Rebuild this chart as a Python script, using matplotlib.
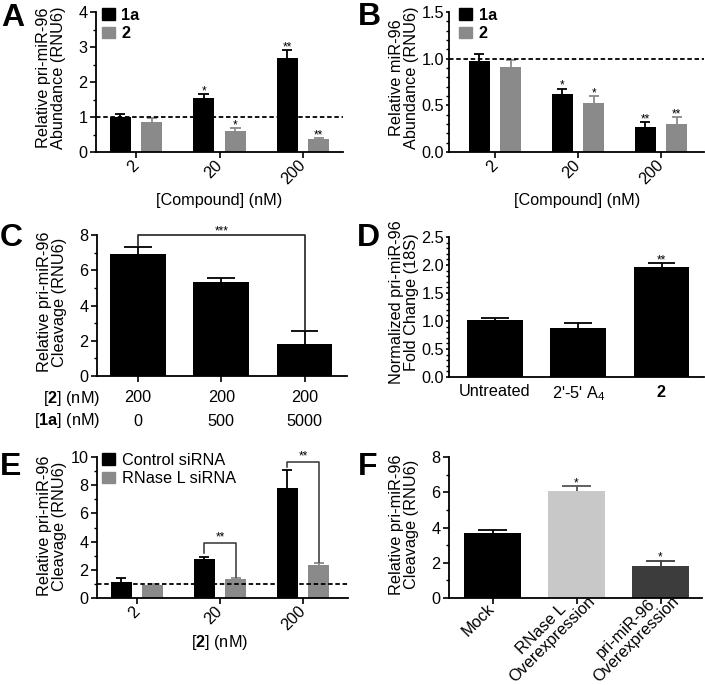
import matplotlib
matplotlib.use('Agg')
import matplotlib.pyplot as plt
import matplotlib.transforms as mtransforms
from matplotlib.patches import Patch
from matplotlib.ticker import AutoMinorLocator

plt.rcParams['font.family'] = 'Liberation Sans'
plt.rcParams['mathtext.fontset'] = 'custom'
plt.rcParams['mathtext.rm'] = 'Liberation Sans'
plt.rcParams['mathtext.bf'] = 'Liberation Sans:bold'
plt.rcParams['font.size'] = 11.7

W, H = 705, 685
BLACK = '#000000'
GRAY = '#8a8a8a'

# ---- data ----
doses = ['2', '20', '200']

a_1a = [1.00, 1.54, 2.70]
a_1a_err = [0.10, 0.11, 0.20]
a_2 = [0.86, 0.60, 0.37]
a_2_err = [0.10, 0.08, 0.03]
a_sig_1a = ['', '*', '**']
a_sig_2 = ['', '*', '**']

b_1a = [0.98, 0.62, 0.27]
b_1a_err = [0.07, 0.06, 0.05]
b_2 = [0.91, 0.52, 0.30]
b_2_err = [0.08, 0.08, 0.07]
b_sig_1a = ['', '*', '**']
b_sig_2 = ['', '*', '**']

c_row1 = ['200', '200', '200']
c_row2 = ['0', '500', '5000']
c_vals = [6.92, 5.35, 1.82]
c_err = [0.40, 0.23, 0.73]

d_labels = ['Untreated', "2'-5' A$_4$", r'$\mathbf{2}$']
d_vals = [1.01, 0.87, 1.96]
d_err = [0.05, 0.09, 0.07]
d_sig = ['', '', '**']

e_ctrl = [1.13, 2.77, 7.80]
e_ctrl_err = [0.28, 0.14, 1.25]
e_rnase = [0.95, 1.35, 2.34]
e_rnase_err = [0.07, 0.08, 0.14]

f_labels = ['Mock', 'RNase L\nOverexpression', 'pri-miR-96\nOverexpression']
f_vals = [3.69, 6.07, 1.82]
f_err = [0.18, 0.28, 0.30]
f_colors = ['#000000', '#c8c8c8', '#3c3c3c']
f_sig = ['', '*', '*']

fig = plt.figure(figsize=(W / 100, H / 100), dpi=100)


def make_ax(l, t, r, b, centers, ylim, step, nminor, ylab, ylab_y=0.52, tick_len=4, tick_pad=2):
    ax = fig.add_axes([l / W, 1 - b / H, (r - l) / W, (b - t) / H])
    sp = (centers[2] - centers[0]) / 2
    ax.set_xlim(-(centers[0] - l) / sp, (r - centers[0]) / sp)
    ax.set_ylim(*ylim)
    ax.set_yticks([ylim[0] + i * step for i in range(int(round((ylim[1] - ylim[0]) / step)) + 1)])
    ax.yaxis.set_minor_locator(AutoMinorLocator(nminor))
    for s in ['top', 'right']:
        ax.spines[s].set_visible(False)
    for s in ['left', 'bottom']:
        ax.spines[s].set_linewidth(1.3)
    ax.tick_params(which='major', length=4, width=1.2, pad=2)
    ax.tick_params(axis='y', which='major', length=tick_len, pad=tick_pad)
    ax.tick_params(which='minor', length=2, width=1)
    ax.tick_params(axis='x', which='minor', length=0)
    ax.tick_params(axis='x', pad=4)
    ax.set_ylabel(ylab, linespacing=1.05)
    ax.yaxis.label.set_verticalalignment('center')
    ax.yaxis.set_label_coords(-45 / (r - l), ylab_y)
    return ax


def bars(ax, x, vals, errs, colors, width, ecolors=None):
    if isinstance(colors, str):
        colors = [colors] * len(vals)
    if ecolors is None:
        ecolors = colors
    ax.bar(x, vals, width=width, color=colors, zorder=2)
    for xi, v, e, c in zip(x, vals, errs, ecolors):
        ax.vlines(xi, v, v + e, color=c, lw=1.3, zorder=3)
        ax.hlines(v + e, xi - width / 4, xi + width / 4, color=c, lw=1.3, zorder=3)


def stars(ax, x, vals, errs, sig):
    for xi, v, e, s in zip(x, vals, errs, sig):
        if s:
            ax.annotate(s, (xi, v + e), xytext=(0, 0), textcoords='offset points',
                        ha='center', va='baseline', fontsize=8.5)


def rot_labels(ax, labels):
    ax.set_xticklabels(labels, rotation=45, ha='right', va='center', rotation_mode='anchor')


def letter(x, y, s):
    fig.text(x / W, 1 - y / H, s, fontsize=23, fontweight='bold', va='baseline')


xg = [0, 1, 2]
xb = [i - 0.19 for i in xg]
xr = [i + 0.19 for i in xg]
bw = 0.25

# ---- A ----
ax = make_ax(96, 12, 343, 152, [136, 220, 303], (0, 4), 1, 2,
             'Relative pri-miR-96\nAbundance (RNU6)', 0.53)
bars(ax, xb, a_1a, a_1a_err, BLACK, bw)
bars(ax, xr, a_2, a_2_err, GRAY, bw)
stars(ax, xb, a_1a, a_1a_err, a_sig_1a)
stars(ax, xr, a_2, a_2_err, a_sig_2)
ax.axhline(1, color='black', ls=(0, (2.5, 1.5)), lw=1.3, zorder=4)
ax.set_xticks(xg)
rot_labels(ax, doses)
fig.text(219.5 / W, 1 - 200 / H, '[Compound] (nM)', ha='center', va='center')
ax.legend([Patch(color=BLACK), Patch(color=GRAY)], ['1a', '2'], loc='upper left',
          bbox_to_anchor=(6 / 247, 1.03), frameon=False, prop={'weight': 'bold'},
          handlelength=0.8, handleheight=0.7, handletextpad=0.4, borderpad=0,
          borderaxespad=0, labelspacing=0.2)
letter(1, 26, 'A')

# ---- B ----
ax = make_ax(449, 12, 704, 152, [495, 578, 661], (0, 1.5), 0.5, 5,
             'Relative miR-96\nAbundance (RNU6)', 0.53, tick_len=2.5, tick_pad=1)
bars(ax, xb, b_1a, b_1a_err, BLACK, bw)
bars(ax, xr, b_2, b_2_err, GRAY, bw)
stars(ax, xb, b_1a, b_1a_err, b_sig_1a)
stars(ax, xr, b_2, b_2_err, b_sig_2)
ax.axhline(1, color='black', ls=(0, (2.5, 1.5)), lw=1.3, zorder=4)
ax.set_xticks(xg)
rot_labels(ax, doses)
ax.set_yticklabels(['0.0', '0.5', '1.0', '1.5'])
fig.text(577 / W, 1 - 200 / H, '[Compound] (nM)', ha='center', va='center')
ax.legend([Patch(color=BLACK), Patch(color=GRAY)], ['1a', '2'], loc='upper left',
          bbox_to_anchor=(10 / 255, 1.03), frameon=False, prop={'weight': 'bold'},
          handlelength=0.8, handleheight=0.7, handletextpad=0.4, borderpad=0,
          borderaxespad=0, labelspacing=0.2)
letter(358, 25, 'B')

# ---- C ----
ax = make_ax(97, 235, 347, 376, [138, 221.5, 304.5], (0, 8), 2, 2,
             'Relative pri-miR-96\nCleavage (RNU6)', 0.525)
bars(ax, xg, c_vals, c_err, BLACK, 0.67)
ax.set_xticks(xg)
ax.set_xticklabels([])
tr = ax.get_xaxis_transform()
for xi, r1, r2 in zip(xg, c_row1, c_row2):
    ax.text(xi, -22 / 141, r1, transform=tr, ha='center', va='center')
    ax.text(xi, -45 / 141, r2, transform=tr, ha='center', va='center')
ax.text(3 / 250, -22 / 141, r'[$\mathbf{2}$] (nM)', transform=ax.transAxes, ha='right', va='center')
ax.text(3 / 250, -45 / 141, r'[$\mathbf{1a}$] (nM)', transform=ax.transAxes, ha='right', va='center')
top = 8.0
ax.plot([0, 0, 2, 2], [c_vals[0] + c_err[0] + 0.05, top, top, c_vals[2] + c_err[2] + 0.05],
        color='#222222', lw=1.2, clip_on=False, zorder=3)
ax.text(1, top + 0.05, '***', ha='center', va='baseline', fontsize=8.5)
letter(0, 246, 'C')

# ---- D ----
ax = make_ax(449, 237, 704, 377, [495, 578.5, 661.5], (0, 2.5), 0.5, 5,
             'Normalized pri-miR-96\nFold Change (18S)', 0.535, tick_len=2.5, tick_pad=1)
bars(ax, xg, d_vals, d_err, BLACK, 0.67)
stars(ax, xg, d_vals, d_err, d_sig)
ax.set_xticks(xg)
ax.set_xticklabels(d_labels)
ax.tick_params(axis='x', length=0, pad=5)
ax.set_yticklabels(['0.0', '0.5', '1.0', '1.5', '2.0', '2.5'])
letter(357, 246, 'D')

# ---- E ----
ax = make_ax(97, 457, 348, 598, [137, 220, 303], (0, 10), 2, 2,
             'Relative pri-miR-96\nCleavage (RNU6)', 0.51)
bars(ax, xb, e_ctrl, e_ctrl_err, BLACK, bw)
bars(ax, xr, e_rnase, e_rnase_err, GRAY, bw)
ax.axhline(1, color='black', ls=(0, (2.5, 1.5)), lw=1.3, zorder=4)
for i, ytop in [(1, 3.9), (2, 9.65)]:
    ax.plot([xb[i], xb[i], xr[i], xr[i]],
            [e_ctrl[i] + e_ctrl_err[i] + 0.25, ytop, ytop, e_rnase[i] + e_rnase_err[i] + 0.05],
            color='#333333', lw=1.1, zorder=3, clip_on=False)
    ax.text(xg[i], ytop + 0.15, '**', ha='center', va='baseline', fontsize=8.5)
ax.set_xticks(xg)
rot_labels(ax, doses)
fig.text(220 / W, 1 - 642 / H, r'[$\mathbf{2}$] (nM)', ha='center', va='center')
ax.legend([Patch(color=BLACK), Patch(color=GRAY)], ['Control siRNA', 'RNase L siRNA'],
          loc='upper left', bbox_to_anchor=(5 / 251, 1.03), frameon=False,
          handlelength=0.8, handleheight=0.7, handletextpad=0.4, borderpad=0,
          borderaxespad=0, labelspacing=0.2)
letter(0, 475, 'E')

# ---- F ----
ax = make_ax(449, 457, 702, 598, [492.5, 576.5, 660.5], (0, 8), 2, 2,
             'Relative pri-miR-96\nCleavage (RNU6)', 0.52)
bars(ax, xg, f_vals, f_err, f_colors, 0.67, ecolors=['#000000', '#555555', '#3c3c3c'])
stars(ax, xg, f_vals, f_err, f_sig)
ax.set_xticks(xg)
ax.set_xticklabels([])
for xi, lab in zip(xg, f_labels):
    nl = lab.count('\n')
    dx, dy = (11, 4) if nl else (0, -8)
    off = mtransforms.ScaledTranslation(dx / 100, dy / 100, fig.dpi_scale_trans)
    ax.text(xi, 0, lab, transform=ax.get_xaxis_transform() + off, rotation=45,
            ha='right', va='center', rotation_mode='anchor', multialignment='center',
            linespacing=1.0)
letter(358, 475, 'F')

fig.savefig('out.png', dpi=100)
